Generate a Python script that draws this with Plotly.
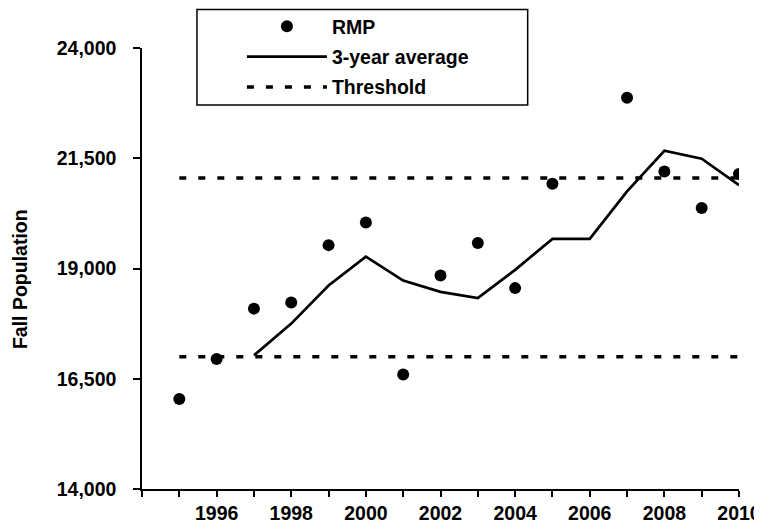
import plotly.graph_objects as go

# ---- data ----
years = [1995, 1996, 1997, 1998, 1999, 2000, 2001, 2002, 2003, 2004,
         2005, 2006, 2007, 2008, 2009, 2010]
rmp = [16040, 16950, 18090, 18230, 19530, 20045, 16595, 18840, 19580, 18555,
       20920, None, 22870, 21200, 20370, 21145]

avg_years = [1997, 1998, 1999, 2000, 2001, 2002, 2003, 2004, 2005, 2006,
             2007, 2008, 2009, 2010]
avg3 = [17030, 17750, 18615, 19270, 18725, 18470, 18330, 18970, 19670, 19670,
        20750, 21670, 21490, 20890]

threshold_years = [1995, 2010]
threshold_low = 17000
threshold_high = 21050

x_tick_years = list(range(1994, 2011))
x_tick_labels = [str(y) if (y % 2 == 0 and y >= 1996) else "" for y in x_tick_years]
y_ticks = [14000, 16500, 19000, 21500, 24000]

FONT = "Liberation Sans, Arial, sans-serif"
FS = 19.5

fig = go.Figure()

fig.add_trace(go.Scatter(
    x=threshold_years + [None] + threshold_years,
    y=[threshold_low] * 2 + [None] + [threshold_high] * 2,
    mode="lines", name="Threshold",
    line=dict(color="black", width=3.5, dash="7px,12px"),
    legendgroup="c", legendrank=3,
))
fig.add_trace(go.Scatter(
    x=avg_years, y=avg3, mode="lines", name="3-year average",
    line=dict(color="black", width=2.7),
    legendgroup="b", legendrank=2,
))
fig.add_trace(go.Scatter(
    x=years, y=rmp, mode="markers", name="RMP",
    marker=dict(color="black", size=12),
    legendgroup="a", legendrank=1,
))

# page body adds an 8px offset; the figure is sized so it ends at the window edge
OFF = 8
W, H = 762 - OFF, 523 - OFF
L = 142 - OFF
T = 48 - OFF
R = 762 - 739.5
B = 523 - 489
pw = W - L - R
ph = H - T - B

def px_x(x):  # reference pixel -> paper x
    return (x - OFF - L) / pw

def px_y(y):  # reference pixel -> paper y
    return (H - B - (y - OFF)) / ph

bold = dict(family=FONT, size=FS, color="black", weight="bold")

fig.update_layout(
    width=W, height=H,
    margin=dict(l=L, r=R, t=T, b=B, autoexpand=False),
    paper_bgcolor="white", plot_bgcolor="white",
    font=bold,
    showlegend=True,
    legend=dict(
        x=px_x(242), y=px_y(7), xanchor="left", yanchor="top",
        bgcolor="rgba(0,0,0,0)", borderwidth=0,
        itemwidth=80, tracegroupgap=2,
        font=bold,
    ),
    shapes=[dict(
        type="rect", xref="paper", yref="paper",
        x0=px_x(197), x1=px_x(528), y0=px_y(105), y1=px_y(9.5),
        line=dict(color="black", width=1.5), fillcolor="rgba(0,0,0,0)",
        layer="above",
    )],
    annotations=[dict(
        text="Fall Population", xref="paper", yref="paper",
        x=px_x(20), y=px_y(279), xanchor="center", yanchor="middle",
        textangle=-90, showarrow=False, font=bold,
    )],
    xaxis=dict(
        range=[1994, 2010], showgrid=False, zeroline=False,
        showline=True, linecolor="black", linewidth=1.5,
        ticks="outside", ticklen=6, tickwidth=1.5, tickcolor="black",
        tickvals=x_tick_years, ticktext=x_tick_labels,
        ticklabelstandoff=0, tickfont=bold,
    ),
    yaxis=dict(
        range=[14000, 24000], showgrid=False, zeroline=False,
        showline=True, linecolor="black", linewidth=1.5,
        ticks="outside", ticklen=7, tickwidth=1.5, tickcolor="black",
        tickvals=y_ticks, tickformat=",",
        ticklabelstandoff=13, tickfont=bold,
    ),
)

fig.write_html("out.html")
